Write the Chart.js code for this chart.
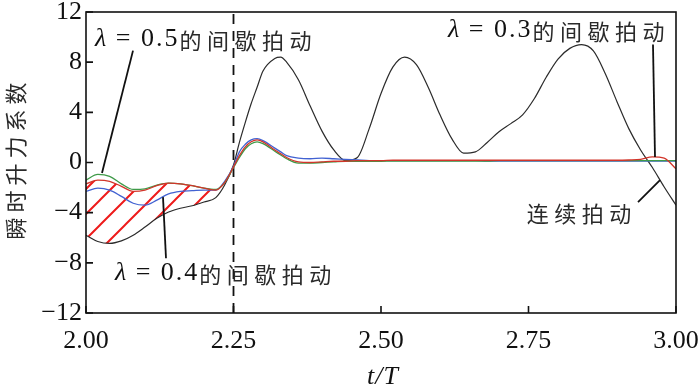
<!DOCTYPE html>
<html><head><meta charset="utf-8">
<script src="https://cdn.jsdelivr.net/npm/chart.js@4.4.0/dist/chart.umd.min.js"></script>
<style>html,body{margin:0;background:#fff}#wrap{width:700px;height:390px}</style>
</head><body><div id="wrap"><canvas id="c"></canvas></div>
<script>
// t/T sample points shared by every series
const t = [2.00,2.02,2.04,2.06,2.08,2.10,2.12,2.14,2.16,2.18,2.20,2.22,2.235,2.25,2.26,2.27,2.28,2.29,2.30,2.32,2.33,2.34,
  2.36,2.38,2.40,2.42,2.44,2.46,2.48,2.50,2.52,2.54,2.56,2.58,2.60,2.62,2.64,2.66,2.68,2.70,2.72,2.74,2.76,2.78,2.80,
  2.82,2.84,2.86,2.88,2.90,2.92,2.94,2.96,2.98,3.00];
// continuous flapping (black)
const liftCont = [-5.8,-6.3,-6.45,-6.25,-5.8,-5.15,-4.45,-3.95,-3.65,-3.45,-3.15,-2.8,-1.8,-0.2,1.6,3.2,4.7,6.0,7.3,8.3,8.4,8.0,
  6.6,4.5,2.5,1.0,0.15,0.4,2.7,5.5,7.6,8.4,7.8,6.0,3.8,1.9,0.75,0.85,1.6,2.45,3.1,3.8,5.1,6.8,8.25,
  9.1,9.4,8.9,7.1,4.85,2.7,1.0,-0.4,-1.95,-3.4];
// λ = 0.5 (green)
const lift05 = [-1.4,-0.95,-1.1,-1.7,-2.15,-2.1,-1.8,-1.65,-1.7,-1.85,-2.05,-2.15,-1.6,-0.4,0.4,1.1,1.5,1.65,1.5,0.9,0.6,0.3,
  -0.05,-0.05,0.0,0.05,0.1,0.1,0.1,0.1,0.12,0.12,0.12,0.12,0.12,0.12,0.12,0.12,0.12,0.15,0.15,0.15,0.15,0.15,0.15,
  0.15,0.15,0.15,0.15,0.15,0.15,0.15,0.15,0.15,0.15];
// λ = 0.4 (blue)
const lift04 = [-2.3,-2.05,-2.2,-2.7,-3.25,-3.4,-3.0,-2.5,-2.3,-2.25,-2.2,-2.2,-1.5,-0.3,0.85,1.45,1.8,1.9,1.75,1.15,0.85,0.55,
  0.35,0.3,0.35,0.3,0.25,0.2,0.15,0.15,0.15,0.15,0.15,0.15,0.15,0.15,0.15,0.15,0.12,0.12,0.12,0.12,0.12,0.12,0.12,
  0.12,0.12,0.12,0.12,0.12,0.12,0.12,0.12,0.12,0.12];
// λ = 0.3 (red)
const lift03 = [-1.7,-1.4,-1.5,-1.9,-2.3,-2.2,-1.85,-1.65,-1.7,-1.85,-2.05,-2.2,-1.6,-0.35,0.55,1.25,1.65,1.8,1.65,1.0,0.7,0.4,
  0.05,0.0,0.05,0.1,0.1,0.15,0.15,0.15,0.18,0.18,0.18,0.18,0.18,0.18,0.18,0.18,0.18,0.18,0.18,0.18,0.18,0.18,0.18,
  0.18,0.18,0.18,0.18,0.18,0.2,0.25,0.45,0.35,-0.5];
const hatchEnd = 2.22;
const dashT = 2.25;
const xRange = [2, 3], xStep = 0.25;
const yRange = [-12, 12], yStep = 4;
const notes = [
  { lam: '0.5', zh: '的间歇拍动', at: [2.0153, 9.8], line: [[2.0797, 8.92], [2.0271, -0.84]] },
  { lam: '0.4', zh: '的间歇拍动', at: [2.049, -8.84], line: [[2.1305, -2.76], [2.1356, -7.64]] },
  { lam: '0.3', zh: '的间歇拍动', at: [2.6136, 10.52], line: [[2.961, 9.4], [2.9644, 0.44]] },
  { lam: null, zh: '连续拍动', at: [2.747, -3.96], line: [[2.9356, -3.16], [2.9729, -1.4]] }
];

const pts = ys => t.map((x, i) => ({ x, y: ys[i] }));
const upto = ys => pts(ys).filter(p => p.x <= hatchEnd + 1e-9);

function hatchPattern() {
  const s = 25, c = document.createElement('canvas');
  c.width = s; c.height = s;
  const g = c.getContext('2d');
  g.strokeStyle = '#ee1b1b'; g.lineWidth = 2;
  g.beginPath();
  g.moveTo(0, s); g.lineTo(s, 0);
  g.moveTo(-2, 2); g.lineTo(2, -2);
  g.moveTo(s - 2, s + 2); g.lineTo(s + 2, s - 2);
  g.stroke();
  return g.createPattern(c, 'repeat');
}

const serif = '"Liberation Serif", serif';
const cjk = '"Noto Sans CJK SC", sans-serif';

const decor = {
  id: 'decor',
  beforeDraw(chart) {
    const { ctx } = chart;
    ctx.save(); ctx.fillStyle = '#fff'; ctx.fillRect(0, 0, chart.width, chart.height); ctx.restore();
  },
  afterDatasetsDraw(chart) {
    const { ctx, chartArea: a, scales: { x, y } } = chart;
    ctx.save();
    ctx.strokeStyle = '#111'; ctx.lineWidth = 1.6;
    ctx.strokeRect(a.left, a.top, a.right - a.left, a.bottom - a.top);
    ctx.beginPath();
    x.ticks.forEach(tk => { const px = x.getPixelForValue(tk.value); ctx.moveTo(px, a.bottom); ctx.lineTo(px, a.bottom - 7); });
    y.ticks.forEach(tk => { const py = y.getPixelForValue(tk.value); ctx.moveTo(a.left, py); ctx.lineTo(a.left + 7, py); });
    ctx.stroke();

    // annotations
    ctx.textBaseline = 'middle'; ctx.textAlign = 'left';
    notes.forEach(n => {
      ctx.lineWidth = 1.8;
      ctx.beginPath();
      ctx.moveTo(x.getPixelForValue(n.line[0][0]), y.getPixelForValue(n.line[0][1]));
      ctx.lineTo(x.getPixelForValue(n.line[1][0]), y.getPixelForValue(n.line[1][1]));
      ctx.stroke();
      let px = x.getPixelForValue(n.at[0]);
      const py = y.getPixelForValue(n.at[1]);
      ctx.fillStyle = '#111';
      if (n.lam) {
        ctx.letterSpacing = '1px';
        ctx.font = 'italic 26px ' + serif;
        ctx.fillText('λ', px, py); px += ctx.measureText('λ').width;
        ctx.font = '26px ' + serif; ctx.letterSpacing = '2px';
        const s = ' = ' + n.lam;
        ctx.fillText(s, px, py); px += ctx.measureText(s).width;
      }
      ctx.fillStyle = '#2a2a2a';
      ctx.font = '22px ' + cjk; ctx.letterSpacing = '5.5px';
      ctx.fillText(n.zh, px, py + 1);
    });

    // axis titles
    ctx.fillStyle = '#2a2a2a';
    ctx.letterSpacing = '5px';
    ctx.font = '22px ' + cjk; ctx.textAlign = 'center';
    ctx.translate(16, (a.top + a.bottom) / 2 - 4);
    ctx.rotate(-Math.PI / 2);
    ctx.fillText('瞬时升力系数', 0, 0);
    ctx.setTransform(1, 0, 0, 1, 0, 0);
    ctx.fillStyle = '#111';
    ctx.letterSpacing = '1px';
    ctx.font = 'italic 26px ' + serif;
    ctx.fillText('t/T', (a.left + a.right) / 2 + 2, 377);
    ctx.restore();
  }
};

const line = (ys, color, w) => ({
  data: pts(ys), borderColor: color, borderWidth: w, pointRadius: 0, fill: false,
  cubicInterpolationMode: 'monotone'
});

new Chart(document.getElementById('c'), {
  type: 'line',
  data: {
    datasets: [
      line(lift03, '#d2352a', 1.3),
      line(lift05, '#3f9a48', 1.3),
      line(lift04, '#4262d2', 1.3),
      line(liftCont, '#2b2b2b', 1.2),
      { data: [{ x: dashT, y: yRange[0] }, { x: dashT, y: yRange[1] }], borderColor: '#111', borderWidth: 1.8,
        borderDash: [10, 7], pointRadius: 0, fill: false },
      { data: upto(liftCont), borderWidth: 0, borderColor: 'transparent', pointRadius: 0,
        cubicInterpolationMode: 'monotone', fill: '+1', backgroundColor: hatchPattern() },
      { data: upto(lift03), borderWidth: 0, borderColor: 'transparent', pointRadius: 0,
        cubicInterpolationMode: 'monotone', fill: false }
    ]
  },
  options: {
    responsive: true, maintainAspectRatio: false, animation: false,
    layout: { padding: { left: 0, right: 24, top: 12, bottom: 0 } },
    plugins: { legend: { display: false }, tooltip: { enabled: false } },
    scales: {
      x: {
        type: 'linear', min: xRange[0], max: xRange[1],
        grid: { display: false, drawTicks: false }, border: { display: false },
        ticks: { stepSize: xStep, maxRotation: 0, autoSkip: false, padding: 13, color: '#111',
          font: { family: serif, size: 26 }, callback: v => v.toFixed(2) },
        afterFit: s => { s.height = 77; s.paddingLeft = 0; s.paddingRight = 0; }
      },
      y: {
        min: yRange[0], max: yRange[1],
        grid: { display: false, drawTicks: false }, border: { display: false },
        ticks: { stepSize: yStep, padding: 4, color: '#111', font: { family: serif, size: 26 },
          callback: v => String(v).replace('-', '\u2212') },
        afterFit: s => { s.width = 86; s.paddingTop = 0; s.paddingBottom = 0; }
      }
    }
  },
  plugins: [decor]
});
</script></body></html>
